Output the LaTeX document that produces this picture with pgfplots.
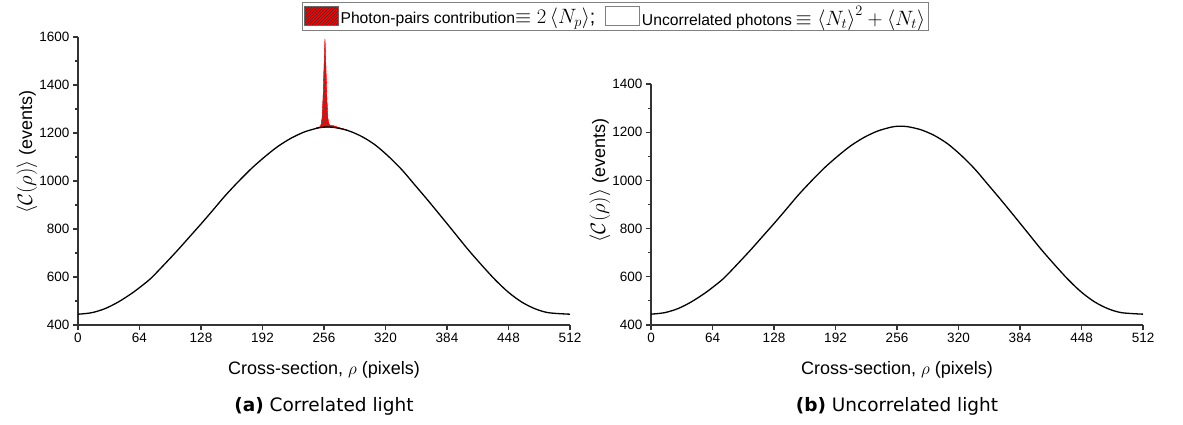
\documentclass[border=0pt]{standalone}
\usepackage{fontspec}
\setmainfont{Liberation Sans}
\newfontfamily\capfont{DejaVu Sans}
\usepackage{pgfplots}
\usepackage{pgfplotstable}
\pgfplotsset{compat=1.18}
\usetikzlibrary{patterns}

\pgfplotstableread{
x y
0 445
14 451
28 468
42 496
56 532
66 562
76 595
90 653
104 713
118 776
128 821
139 872
153 938
167 998
181 1054
195 1103
208 1144
222 1179
236 1205
250 1221
258 1225
267 1223
281 1210
295 1186
309 1151
323 1103
337 1047
350 986
364 920
378 852
392 783
406 714
420 650
434 589
448 536
462 495
476 467
490 451
512 445
}\curve

\newcommand\legmath[1]{{\fontsize{19.5}{20}\selectfont #1}}
\pgfplotsset{
 myax/.style={
  scale only axis, width=492pt,
  xmin=0, xmax=512, ymin=400,
  axis x line*=bottom, axis y line*=left,
  axis line style={line width=1.1pt, black!80},
  tick align=outside,
  xtick={0,64,...,512},
  minor y tick num=1,
  major tick length=5pt, minor tick length=3pt,
  tick style={line width=1.1pt, black!80},
  ticklabel style={font=\fontsize{13.5}{14}\selectfont},
  /pgf/number format/assume math mode=true,
  /pgf/number format/1000 sep={},
  xlabel style={font=\fontsize{18}{18}\selectfont, at={(axis description cs:0.5,0)}, anchor=center, yshift=-45pt},
  ylabel style={font=\fontsize{18}{18}\selectfont, at={(axis description cs:-0.1037,0.6)}, anchor=center},
  xlabel={Cross-section, $\rho$ (pixels)},
  ylabel={{\fontsize{19.5}{20}\selectfont$\left<\mathcal{C}(\rho)\right>$} (events)},
  legend image code/.code={\draw[##1] (0pt,-9pt) rectangle (34pt,10pt);},
 }
}

\begin{document}
\begin{tikzpicture}[x=1pt,y=1pt]
\useasboundingbox (0,0) rectangle (1183,424);
\begin{axis}[myax, at={(78pt,99pt)}, anchor=south west,
  height=288pt, ymax=1600, ytick={400,600,...,1600},
  legend style={at={(axis description cs:1.0925,1.1215)}, anchor=north,
    legend columns=2, draw=black!50, line width=0.8pt,
    font=\fontsize{15.7}{16}\selectfont, inner sep=1.5pt,
    /tikz/every even column/.append style={column sep=8pt}},
]
\addlegendimage{fill=red, draw=black!60, line width=0.6pt, postaction={pattern=north east lines, pattern color=black!80}}
\addlegendentry{Photon-pairs contribution\legmath{$\equiv 2\left<N_p\right>$;}}
\addlegendimage{fill=white, draw=black!50, line width=0.6pt}
\addlegendentry{Uncorrelated photons\legmath{$\,\equiv \left<N_t\right>^2+\left<N_t\right>$}}
\addplot[draw=red, fill=red, line width=0.3pt, postaction={pattern=north east lines, pattern color=black!70}, forget plot]
 coordinates {(248,1222) (252,1226) (253,1236) (254,1262) (255,1345) (256,1470) (257,1592) (258,1470) (259,1340) (260,1262) (261,1240) (262,1232) (266,1230) (272,1222) (280,1213) (272,1219) (264,1224) (256,1224) (248,1220)} -- cycle;
\addplot[red!70!black, line width=1pt, forget plot] coordinates {(0,400) (512,400)};
\addplot[black, line width=1.3pt, smooth, forget plot] table {\curve};
\end{axis}
\begin{axis}[myax, at={(651pt,99pt)}, anchor=south west,
  height=241pt, ymax=1400, ytick={400,600,...,1400}]
\addplot[black, line width=1.3pt, smooth] table {\curve};
\end{axis}
\node[font=\capfont\fontsize{18.5}{19}\selectfont] at (324,18) {\textbf{(a)} Correlated light};
\node[font=\capfont\fontsize{18.5}{19}\selectfont] at (897,18) {\textbf{(b)} Uncorrelated light};
\end{tikzpicture}
\end{document}
